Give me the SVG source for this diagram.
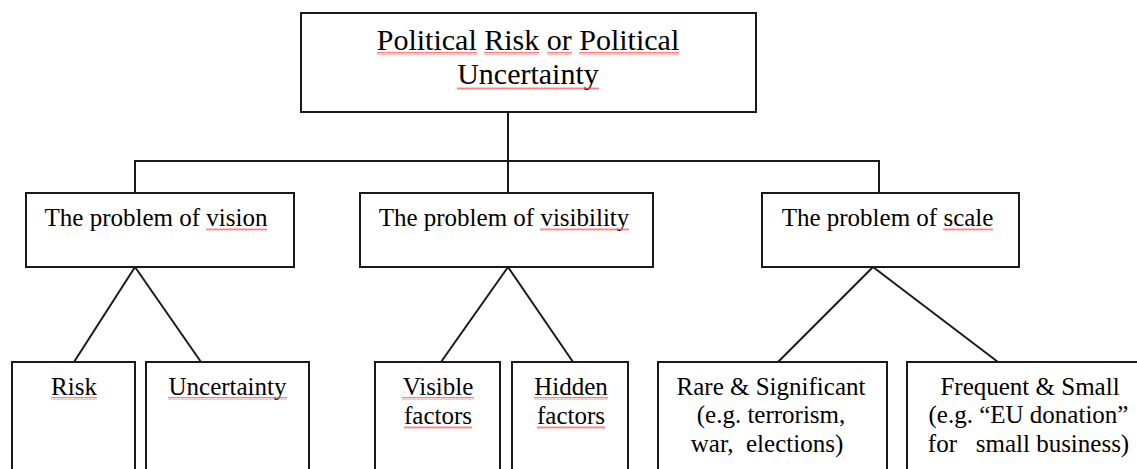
<svg xmlns="http://www.w3.org/2000/svg" width="1137" height="469" viewBox="0 0 1137 469">
<defs>
<style>
.box{fill:#fff;stroke:#1a1a1a;stroke-width:2}
.con{stroke:#1a1a1a;stroke-width:2;fill:none}
.lbl{font-family:'Liberation Serif','Times New Roman','DejaVu Serif',serif;fill:#000;text-anchor:middle}
.t30{font-size:30px}
.t25{font-size:25px}
.sq{fill:url(#squig)}
</style>
<pattern id="squig" patternUnits="userSpaceOnUse" width="4" height="3">
<polyline points="0,2.5 1,0.5 2,2.5 3,0.5 4,2.5" fill="none" stroke="#ff4a4a" stroke-width="0.7"/>
</pattern>
</defs>
<rect width="1137" height="469" fill="#fff"/>

<g id="connectors">
<line class="con" x1="508" y1="112" x2="508" y2="193"/>
<line class="con" x1="135" y1="161" x2="879" y2="161"/>
<line class="con" x1="135" y1="160" x2="135" y2="193"/>
<line class="con" x1="879" y1="160" x2="879" y2="193"/>
<line class="con" x1="135" y1="267" x2="74" y2="362"/>
<line class="con" x1="135" y1="267" x2="201" y2="362"/>
<line class="con" x1="508" y1="267" x2="441" y2="362"/>
<line class="con" x1="508" y1="267" x2="573" y2="362"/>
<line class="con" x1="873" y1="267" x2="778" y2="362"/>
<line class="con" x1="873" y1="267" x2="998" y2="362"/>
</g>

<g id="root" font-family="Liberation Serif, serif">
<rect class="box" x="301" y="13" width="455" height="99"/>
<text class="lbl t30" x="528" y="50">Political Risk or Political</text>
<text class="lbl t30" x="528" y="84">Uncertainty</text>
<rect class="sq" x="377" y="52" width="100" height="3"/>
<rect class="sq" x="484" y="52" width="55" height="3"/>
<rect class="sq" x="547" y="52" width="25" height="3"/>
<rect class="sq" x="579" y="52" width="100" height="3"/>
<rect class="sq" x="457" y="87" width="142" height="3"/>
</g>

<g id="vision" font-family="Liberation Serif, serif">
<rect class="box" x="26" y="193" width="268" height="74"/>
<text class="lbl t25" x="156" y="226">The problem of vision</text>
<rect class="sq" x="206" y="228" width="61" height="3"/>
</g>

<g id="visibility" font-family="Liberation Serif, serif">
<rect class="box" x="360" y="193" width="293" height="74"/>
<text class="lbl t25" x="504" y="226">The problem of visibility</text>
<rect class="sq" x="540" y="228" width="89" height="3"/>
</g>

<g id="scale" font-family="Liberation Serif, serif">
<rect class="box" x="762" y="193" width="257" height="74"/>
<text class="lbl t25" x="887.5" y="226">The problem of scale</text>
<rect class="sq" x="943" y="228" width="50" height="3"/>
</g>

<g id="risk" font-family="Liberation Serif, serif">
<rect class="box" x="12" y="362" width="123" height="130"/>
<text class="lbl t25" x="74" y="395">Risk</text>
<rect class="sq" x="51" y="397" width="46" height="3"/>
</g>

<g id="uncertainty" font-family="Liberation Serif, serif">
<rect class="box" x="146" y="362" width="163" height="130"/>
<text class="lbl t25" x="227.5" y="395">Uncertainty</text>
<rect class="sq" x="168" y="397" width="119" height="3"/>
</g>

<g id="visible" font-family="Liberation Serif, serif">
<rect class="box" x="375" y="362" width="125" height="130"/>
<text class="lbl t25" x="438" y="395">Visible</text>
<text class="lbl t25" x="438" y="424">factors</text>
<rect class="sq" x="402" y="397" width="72" height="3"/>
<rect class="sq" x="404" y="426" width="68" height="3"/>
</g>

<g id="hidden" font-family="Liberation Serif, serif">
<rect class="box" x="512" y="362" width="116" height="130"/>
<text class="lbl t25" x="571" y="395">Hidden</text>
<text class="lbl t25" x="571" y="424">factors</text>
<rect class="sq" x="534" y="397" width="74" height="3"/>
<rect class="sq" x="537" y="426" width="68" height="3"/>
</g>

<g id="rare" font-family="Liberation Serif, serif">
<rect class="box" x="658" y="362" width="229" height="130"/>
<text class="lbl t25" x="771" y="395">Rare &amp; Significant</text>
<text class="lbl t25" x="771" y="423">(e.g. terrorism,</text>
<text class="lbl t25" x="767" y="452" xml:space="preserve">war,  elections)</text>
</g>

<g id="frequent" font-family="Liberation Serif, serif">
<rect class="box" x="907" y="362" width="240" height="130"/>
<text class="lbl t25" x="1030" y="395">Frequent &amp; Small</text>
<text class="lbl t25" x="1028.5" y="423">(e.g. “EU donation”</text>
<text class="lbl t25" x="1028.5" y="452" xml:space="preserve">for   small business)</text>
</g>
</svg>
